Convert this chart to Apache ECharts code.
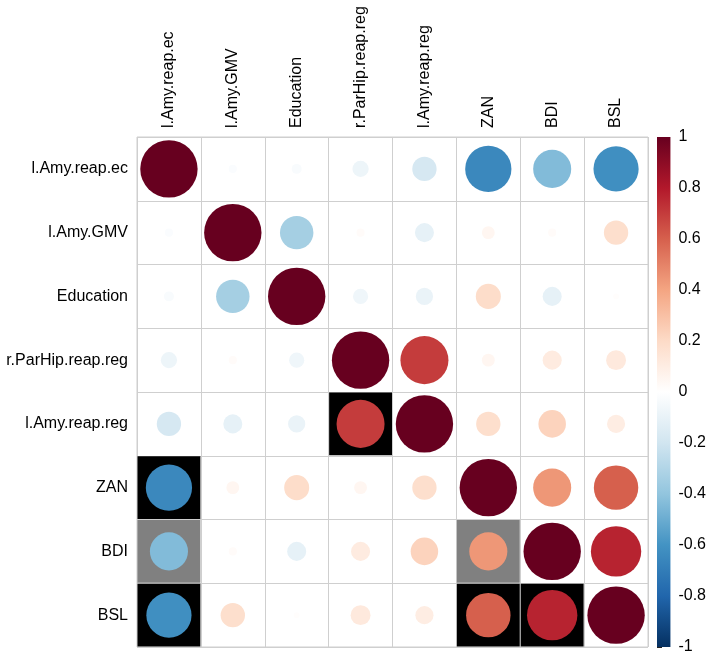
<!DOCTYPE html>
<html>
<head>
<meta charset="utf-8">
<script src="https://cdn.jsdelivr.net/npm/echarts@6/dist/echarts.min.js"></script>
<style>
html,body{margin:0;padding:0;background:#fff;}
#chart{width:709px;height:655px;}
</style>
</head>
<body>
<div id="chart"></div>
<script>
// ---- data ----
const variables = ['l.Amy.reap.ec', 'l.Amy.GMV', 'Education', 'r.ParHip.reap.reg', 'l.Amy.reap.reg', 'ZAN', 'BDI', 'BSL'];
const corrLAmyReapEc   = [1, -0.02, -0.03, -0.08, -0.18, -0.65, -0.44, -0.62];
const corrLAmyGMV      = [-0.02, 1, -0.34, 0.02, -0.11, 0.05, 0.02, 0.18];
const corrEducation    = [-0.03, -0.34, 1, -0.07, -0.09, 0.19, -0.11, 0.01];
const corrRParHipReap  = [-0.08, 0.02, -0.07, 1, 0.70, 0.05, 0.11, 0.12];
const corrLAmyReapReg  = [-0.18, -0.11, -0.09, 0.70, 1, 0.18, 0.23, 0.10];
const corrZAN          = [-0.65, 0.05, 0.19, 0.05, 0.18, 1, 0.44, 0.60];
const corrBDI          = [-0.44, 0.02, -0.11, 0.11, 0.23, 0.44, 1, 0.77];
const corrBSL          = [-0.62, 0.18, 0.01, 0.12, 0.10, 0.60, 0.77, 1];
// significance markers: [row, col]
const sigStrong = [[4, 3], [5, 0], [7, 0], [7, 5], [7, 6]];
const sigWeak   = [[6, 0], [6, 5]];
const colorbarTicks = { min: -1, max: 1, interval: 0.2 };
const palette = ['#053061', '#2166AC', '#4393C3', '#92C5DE', '#D1E5F0', '#FFFFFF', '#FDDBC7', '#F4A582', '#D6604D', '#B2182B', '#67001F'];
const sigColors = [null, '#000000', '#808080'];

const rows = [corrLAmyReapEc, corrLAmyGMV, corrEducation, corrRParHipReap, corrLAmyReapReg, corrZAN, corrBDI, corrBSL];
function sigCode(r, c) {
  if (sigStrong.some(p => p[0] === r && p[1] === c)) return 1;
  if (sigWeak.some(p => p[0] === r && p[1] === c)) return 2;
  return 0;
}
const cells = [];
rows.forEach((row, r) => row.forEach((v, c) => cells.push([c, r, v, sigCode(r, c)])));

const FONT = 'Liberation Sans, Arial, sans-serif';
const chart = echarts.init(document.getElementById('chart'));
chart.setOption({
  backgroundColor: '#ffffff',
  animation: false,
  grid: [
    { left: 137, top: 137, width: 511, height: 510, show: true, borderColor: '#cfcfcf', borderWidth: 1 },
    { left: 657, top: 137, width: 17, height: 510 }
  ],
  xAxis: [
    {
      gridIndex: 0, type: 'category', data: variables, position: 'top',
      axisLine: { show: false }, axisTick: { show: false },
      splitLine: { show: true, lineStyle: { color: '#cfcfcf', width: 1 } },
      axisLabel: { rotate: -90, interval: 0, margin: 9, fontSize: 16, color: '#000', fontFamily: FONT }
    },
    { gridIndex: 1, type: 'value', min: 0, max: 1, show: false }
  ],
  yAxis: [
    {
      gridIndex: 0, type: 'category', data: variables, inverse: true,
      axisLine: { show: false }, axisTick: { show: false },
      splitLine: { show: true, lineStyle: { color: '#cfcfcf', width: 1 } },
      axisLabel: { interval: 0, margin: 9, fontSize: 16, color: '#000', fontFamily: FONT }
    },
    {
      gridIndex: 1, type: 'value', position: 'right',
      min: colorbarTicks.min, max: colorbarTicks.max, interval: colorbarTicks.interval,
      axisLine: { show: false },
      axisTick: { show: true, length: 5, lineStyle: { color: '#222', width: 1 } },
      splitLine: { show: false },
      axisLabel: { margin: 8, fontSize: 16, color: '#000', fontFamily: FONT }
    }
  ],
  visualMap: {
    type: 'continuous', show: false, min: -1, max: 1, dimension: 2, seriesIndex: 0,
    inRange: { color: palette }
  },
  series: [
    {
      type: 'custom', xAxisIndex: 0, yAxisIndex: 0,
      data: cells,
      encode: { x: 0, y: 1 },
      renderItem: function (params, api) {
        const c = api.coord([api.value(0), api.value(1)]);
        const sz = api.size([1, 1]);
        const w = sz[0], h = sz[1];
        const v = api.value(2);
        const s = api.value(3);
        const children = [];
        if (s > 0) {
          children.push({
            type: 'rect',
            shape: { x: c[0] - w / 2 + 0.5, y: c[1] - h / 2 + 0.5, width: w - 1, height: h - 1 },
            style: { fill: sigColors[s] }
          });
        }
        children.push({
          type: 'circle',
          shape: { cx: c[0], cy: c[1], r: 0.45 * Math.min(w, h) * Math.sqrt(Math.abs(v)) },
          style: { fill: api.visual('color') }
        });
        return { type: 'group', children: children };
      }
    },
    {
      type: 'custom', xAxisIndex: 1, yAxisIndex: 1,
      data: [[0, colorbarTicks.max, 1, colorbarTicks.min]],
      encode: { x: [0, 2], y: [1, 3] },
      renderItem: function (params, api) {
        const p0 = api.coord([api.value(0), api.value(1)]);
        const p1 = api.coord([api.value(2), api.value(3)]);
        const stops = palette.slice().reverse().map((col, i) => ({ offset: i / (palette.length - 1), color: col }));
        return {
          type: 'rect',
          shape: { x: p0[0], y: p0[1], width: p1[0] - p0[0], height: p1[1] - p0[1] },
          style: { fill: new echarts.graphic.LinearGradient(0, 0, 0, 1, stops) }
        };
      }
    }
  ]
});
</script>
</body>
</html>
